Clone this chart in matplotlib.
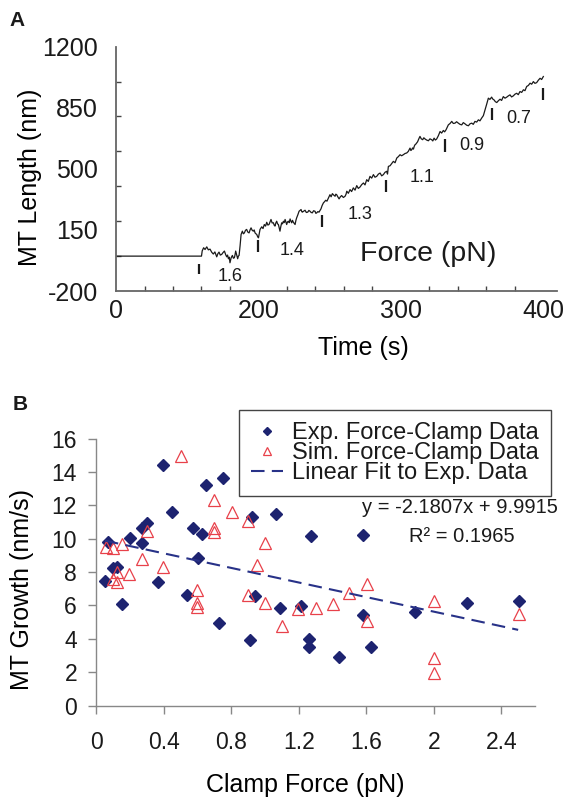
import numpy as np
import matplotlib
matplotlib.use("Agg")
import matplotlib.pyplot as plt

plt.rcParams['font.family'] = ['Liberation Sans', 'DejaVu Sans']
plt.rcParams['axes.unicode_minus'] = False
plt.rcParams['text.color'] = '#1a1a1a'
plt.rcParams['xtick.color'] = '#555555'
plt.rcParams['ytick.color'] = '#555555'
plt.rcParams['xtick.labelcolor'] = '#1a1a1a'
plt.rcParams['ytick.labelcolor'] = '#1a1a1a'

# ---- panel A: MT length trace (time in s, length in nm) ----
trace_t = [100, 160, 160.5, 161.5, 162.5, 163.7, 164.8, 166, 167.2, 168.3, 169.4, 170.7, 171.5,
           172.3, 173.2, 174.2, 175.1, 176.1, 177, 177.7, 178.3, 178.9, 179.5, 180.0, 180.8,
           181.7, 182.4, 183.1, 183.6, 184.0, 184.7, 185.4, 185.9, 186.4, 187.1, 187.8, 188.7,
           189.4, 190.1, 190.9, 191.7, 192.5, 193.4, 194.1, 194.8, 195.6, 196.4, 197.0, 197.6,
           198.2, 198.8, 199.4, 200.0, 200.6, 201.1, 201.7, 202.3, 203.2, 204.1, 205.0, 205.8,
           206.6, 207.4, 208.1, 208.8, 209.6, 210.5, 211.0, 211.6, 212.2, 212.8, 213.4, 214,
           214.6, 215.1, 215.7, 216.3, 216.9, 217.5, 218.1, 218.7, 219.3, 219.8, 220.4, 221,
           221.6, 222.2, 222.8, 223.3, 223.9, 224.5, 225.1, 225.7, 226.3, 226.8, 227.7, 228.5,
           229.2, 229.9, 230.4, 230.8, 231.8, 232.7, 233.6, 234.6, 235.4, 236.2, 237.0, 237.8,
           238.7, 239.7, 240.3, 240.9, 241.7, 242.5, 243.2, 243.9, 244.7, 245.6, 246.4, 247.2,
           248.1, 249.1, 249.7, 250.2, 251.0, 251.9, 252.8, 253.8, 254.3, 254.9, 255.7, 256.6,
           257.5, 258.4, 259.6, 260.8, 261.5, 262.0, 263.1, 264.3, 265.4, 266.6, 267.8, 269.0,
           270.1, 271.3, 272.5, 273.7, 274.8, 276.0, 277.1, 278.3, 279.5, 280.7, 281.8, 283.0,
           284.2, 285.4, 286.5, 287.7, 288.8, 290.0, 290.6, 291.2, 292.4, 293.5, 294.7, 295.9,
           297.1, 298.2, 299.4, 300.5, 301.7, 302.9, 304.1, 305.2, 306.4, 307.0, 307.6, 308.2,
           308.8, 309.4, 309.9, 310.5, 311.1, 311.7, 312.3, 312.8, 313.4, 314.3, 315.3, 316.1,
           317.0, 318.1, 319.3, 320.4, 321.6, 322.4, 323.3, 324.2, 325.1, 326.3, 327.5, 328.6,
           329.8, 330.7, 331.7, 332.5, 333.3, 334.5, 335.7, 336.8, 338.0, 339.1, 340.3, 341.5,
           342.7, 343.8, 345.0, 346.2, 347.4, 348.5, 349.7, 350.8, 352.0, 353.2, 354.4, 355.5,
           356.7, 357.9, 359.1, 360.2, 361.4, 362.5, 363.7, 364.5, 365.4, 366.3, 367.3, 368.4,
           369.6, 370.7, 371.9, 373.1, 374.3, 375.4, 376.6, 377.7, 378.9, 380.1, 381.3, 382.4,
           383.6, 384.8, 386.0, 387.1, 388.3, 389.5, 390.7, 391.8, 393.0, 394.1, 395.3, 396.5,
           397.7, 398.8, 400.0]
trace_nm = [0, 0, 30, 48, 38, 53, 36, 40, 22, 12, 24, -4, 14,
            23, 6, 10, 20, 29, 8, -4, 6, -15, -6, -38, -10,
            4, -12, -9, 10, 29, 8, -15, 0, 4, 60, 124, 143,
            128, 133, 148, 153, 138, 133, 150, 162, 148, 143, 150, 133,
            128, 124, 112, 105, 130, 153, 160, 168, 158, 181, 172, 194,
            178, 181, 195, 210, 190, 191, 178, 172, 190, 200, 185, 181,
            160, 143, 170, 191, 185, 200, 192, 210, 195, 181, 196, 200,
            192, 213, 200, 191, 205, 194, 188, 181, 205, 219, 238, 257,
            262, 267, 255, 252, 258, 263, 250, 252, 262, 257, 250, 248,
            260, 257, 245, 248, 255, 252, 262, 271, 290, 305, 312, 320,
            315, 333, 345, 352, 340, 358, 350, 343, 355, 352, 340, 328,
            340, 347, 336, 343, 355, 372, 360, 381, 370, 391, 378, 404,
            388, 396, 410, 419, 408, 438, 428, 457, 447, 467, 452, 457,
            470, 476, 460, 467, 480, 486, 470, 514, 518, 530, 543, 535,
            562, 570, 581, 575, 581, 588, 591, 600, 619, 605, 610, 620,
            613, 630, 638, 642, 648, 655, 667, 676, 686, 672, 667, 678,
            671, 665, 661, 672, 667, 660, 676, 665, 671, 690, 714, 705,
            720, 712, 724, 738, 752, 760, 772, 760, 762, 770, 762, 755,
            752, 765, 758, 750, 747, 758, 762, 755, 772, 768, 781, 775,
            791, 805, 838, 870, 905, 898, 911, 900, 895, 885, 880, 890,
            899, 892, 914, 905, 911, 918, 924, 912, 918, 928, 933, 925,
            943, 938, 953, 948, 972, 978, 991, 985, 1000, 990, 994, 1008,
            1019, 1012, 1029]

# force-step markers and their force labels (pN)
mark_t = [158.0, 199.5, 244.4, 289.8, 330.8, 364.0, 400.0]
mark_lo = [-105, 22, 166, 366, 596, 781, 897]
mark_hi = [-47, 92, 234, 438, 672, 848, 966]
force_lbl = ['1.6', '1.4', '1.3', '1.1', '0.9', '0.7']
force_t = [180.0, 223.3, 271.3, 314.6, 349.7, 382.8]
force_nm = [-114, 32, 238, 448, 632, 788]

a_yticks = [-200, 150, 500, 850, 1200]
a_xticks = [100, 200, 300, 400]
a_xticklabels = ['0', '200', '300', '400']

# ---- panel B: growth rate vs clamp force ----
exp_f = [0.050, 0.066, 0.096, 0.120, 0.151, 0.198, 0.268, 0.268, 0.297, 0.396, 0.366,
         0.449, 0.538, 0.570, 0.600, 0.623, 0.649, 0.728, 0.748, 0.910, 0.923, 0.941,
         1.064, 1.087, 1.210, 1.260, 1.260, 1.269, 1.439, 1.581, 1.581, 1.625, 1.891,
         2.194, 2.506]
exp_v = [7.46, 9.82, 8.22, 8.32, 6.07, 10.02, 9.72, 10.62, 10.92, 14.39, 7.43,
         11.6, 6.63, 10.66, 8.86, 10.26, 13.21, 4.95, 13.63, 3.93, 11.3, 6.59,
         11.46, 5.87, 5.97, 4.01, 3.49, 10.16, 2.89, 10.2, 5.43, 3.51, 5.59,
         6.17, 6.27]
sim_f = [0.056, 0.096, 0.149, 0.096, 0.120, 0.120, 0.195, 0.272, 0.297, 0.396, 0.501,
         0.598, 0.598, 0.598, 0.698, 0.698, 0.698, 0.801, 0.900, 0.900, 0.949, 0.999,
         0.999, 1.097, 1.196, 1.301, 1.400, 1.498, 1.601, 1.601, 2.000, 2.000, 2.000,
         2.504]
sim_v = [9.52, 9.46, 9.66, 7.56, 7.43, 8.02, 7.86, 8.76, 10.46, 8.32, 14.97,
         6.93, 6.13, 5.89, 12.31, 10.62, 10.38, 11.62, 11.06, 6.63, 8.42, 9.72,
         6.17, 4.77, 5.77, 5.87, 6.07, 6.73, 7.27, 5.07, 6.27, 2.87, 1.98,
         5.49]
fit_slope = -2.1807
fit_icpt = 9.9915
fit_range = [0.05, 2.5]

navy = '#1d2370'
red = '#e8414a'

fig = plt.figure(figsize=(5.71, 7.98), dpi=100)

# ---------------- A ----------------
axA = fig.add_axes([0.2032, 0.6353, 0.7723, 0.3062])
axA.plot(trace_t, trace_nm, color='#1a1a1a', lw=0.9)
axA.vlines(mark_t, mark_lo, mark_hi, color='#1a1a1a', lw=1.6)
for lbl, t, v in zip(force_lbl, force_t, force_nm):
    axA.text(t, v, lbl, fontsize=13, ha='center', va='center')
axA.text(319.3, 10, 'Force (pN)', fontsize=20.5, ha='center', va='center')

axA.set_xlim(100, 409.6)
axA.set_ylim(-200, 1200)
axA.spines[['top', 'right']].set_visible(False)
for s in ['left', 'bottom']:
    axA.spines[s].set_color('#666666')
    axA.spines[s].set_linewidth(1.3)
axA.set_yticks(a_yticks)
axA.set_yticks(np.arange(-200, 1201, 200), minor=True)
axA.set_xticks(a_xticks)
axA.set_xticklabels(a_xticklabels)
axA.set_xticks(np.arange(100, 401, 20), minor=True)
axA.tick_params(axis='both', which='major', length=0, labelsize=18)
axA.tick_params(axis='y', which='major', pad=13)
axA.tick_params(axis='x', which='major', pad=6)
axA.tick_params(axis='both', which='minor', direction='in', length=3.5, width=1.0, color='#444444')
axA.set_ylabel('MT Length (nm)', fontsize=18)
axA.set_xlabel('Time (s)', fontsize=18)
axA.yaxis.set_label_coords(-0.195, 0.467)
axA.xaxis.set_label_coords(0.56, -0.233)
axA.yaxis.label.set_va('center')
axA.xaxis.label.set_va('center')
fig.text(17 / 571, 1 - 21 / 798, 'A', fontsize=15, fontweight='bold', ha='center', va='center')

# ---------------- B ----------------
axB = fig.add_axes([0.169, 0.1157, 0.768, 0.3348])
axB.plot(exp_f, exp_v, linestyle='none', marker='D', markersize=6.2, color=navy,
         label='Exp. Force-Clamp Data')
axB.plot(sim_f, sim_v, linestyle='none', marker='^', markersize=8.5, markerfacecolor='none',
         markeredgecolor=red, markeredgewidth=0.9, label='Sim. Force-Clamp Data')
fx = np.array(fit_range)
axB.plot(fx, fit_slope * fx + fit_icpt, color='#283288', lw=1.5, dashes=(6.5, 3.5),
         label='Linear Fit to Exp. Data')

axB.set_xlim(0, 2.6)
axB.set_ylim(0, 16)
axB.set_xticks([0, 0.4, 0.8, 1.2, 1.6, 2, 2.4])
axB.set_xticklabels(['0', '0.4', '0.8', '1.2', '1.6', '2', '2.4'])
axB.set_yticks(range(0, 17, 2))
axB.spines[['top', 'right']].set_visible(False)
for s in ['left', 'bottom']:
    axB.spines[s].set_color('#888888')
    axB.spines[s].set_linewidth(1.0)
axB.tick_params(axis='both', direction='out', length=6, width=1.0, color='#888888', labelsize=16.5)
axB.tick_params(axis='x', pad=12)
axB.tick_params(axis='y', pad=8)
axB.set_ylabel('MT Growth (nm/s)', fontsize=18)
axB.set_xlabel('Clamp Force (pN)', fontsize=18)
axB.yaxis.set_label_coords(-0.170, 0.433)
axB.xaxis.set_label_coords(0.477, -0.297)
axB.yaxis.label.set_va('center')
axB.xaxis.label.set_va('center')

axB.text(1.052, 0.740, 'y = -2.1807x + 9.9915', transform=axB.transAxes, fontsize=14.5,
         ha='right', va='center')
axB.text(0.833, 0.635, 'R² = 0.1965', transform=axB.transAxes, fontsize=14.5,
         ha='center', va='center')

leg = axB.legend(loc='upper left', bbox_to_anchor=(239.3 / 571, 1 - 410 / 798),
                 bbox_transform=fig.transFigure, fontsize=17, frameon=True, fancybox=False,
                 edgecolor='#444444', framealpha=1, borderpad=0.5, labelspacing=-0.07,
                 handlelength=1.35, handletextpad=0.4, markerscale=0.7, borderaxespad=0)
leg.get_frame().set_linewidth(1.0)
fig.text(20 / 571, 1 - 404 / 798, 'B', fontsize=15, fontweight='bold', ha='center', va='center')

fig.savefig('out.png', dpi=100)
